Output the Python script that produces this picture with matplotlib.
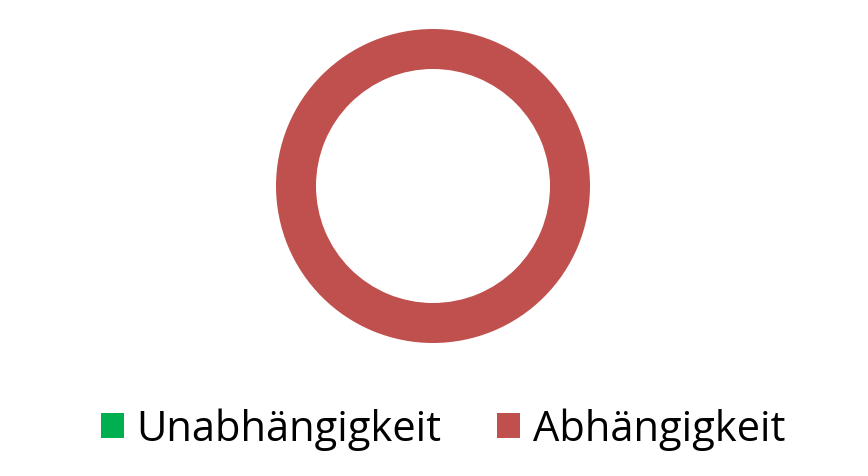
import matplotlib.pyplot as plt

labels = ['Unabhängigkeit', 'Abhängigkeit']
values = [0, 100]
colors = ['#00B050', '#C0504D']

plt.rcParams['font.family'] = ['Open Sans', 'DejaVu Sans']

fig = plt.figure(figsize=(8.68, 4.77), dpi=100)
W, H = 868, 477
cx, cy, r = 433, 187, 157
ax = fig.add_axes([(cx - r) / W, (H - cy - r) / H, 2 * r / W, 2 * r / H])
wedges, _ = ax.pie(values, colors=colors, radius=1, startangle=90, counterclock=False,
                   wedgeprops=dict(width=40 / 157, linewidth=0))
ax.set_xlim(-1, 1)
ax.set_ylim(-1, 1)
ax.set_aspect('equal')
ax.axis('off')

fig.legend(wedges, labels, loc='center', bbox_to_anchor=(443 / W, 1 - 430 / H), ncol=2,
           frameon=False, fontsize=30, handlelength=0.55, handleheight=0.55,
           handletextpad=0.3, columnspacing=1.35)

fig.savefig('out.png', dpi=100)
